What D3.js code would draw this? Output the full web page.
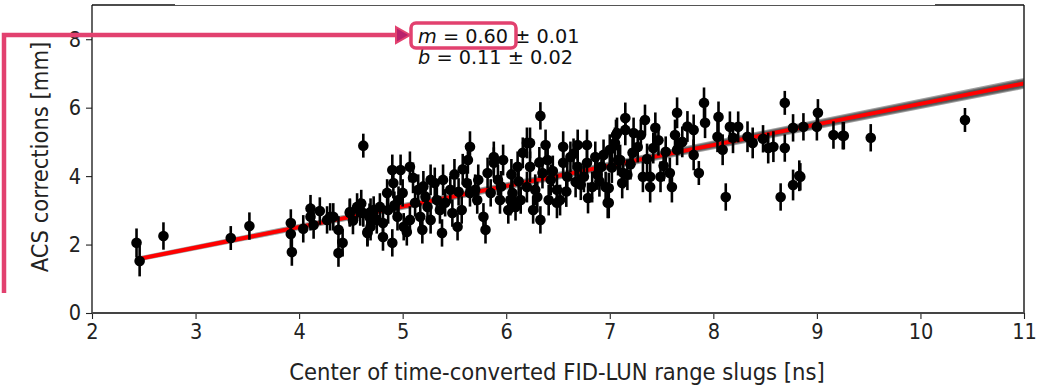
<!DOCTYPE html>
<html>
<head>
<meta charset="utf-8">
<script src="https://cdn.jsdelivr.net/npm/d3@7"></script>
<style>
  body { margin: 0; background: #fff; }
  svg { display: block; font-family: "DejaVu Sans", sans-serif; }
  .cond { font-family: "DejaVu Sans Condensed", "DejaVu Sans", sans-serif; font-stretch: condensed; }
</style>
</head>
<body>
<svg id="chart" width="1051" height="387"></svg>
<script>
// data: [x (ns), y (mm), y error]
const points = [
  [2.43, 2.05, 0.42], [2.46, 1.52, 0.45], [2.69, 2.25, 0.4], [3.34, 2.19, 0.35], [3.52, 2.54, 0.4],
  [3.92, 2.63, 0.4], [3.92, 2.31, 0.4], [3.93, 1.78, 0.4], [4.04, 2.46, 0.4], [4.11, 2.81, 0.4],
  [4.11, 3.05, 0.4], [4.20, 2.98, 0.4], [4.14, 2.57, 0.4], [4.27, 2.72, 0.4], [4.33, 2.81, 0.4],
  [4.38, 2.43, 0.4], [4.42, 2.05, 0.4], [4.38, 1.75, 0.4], [4.49, 2.92, 0.4], [4.59, 2.95, 0.4],
  [4.66, 2.34, 0.4], [4.69, 2.95, 0.4], [4.62, 4.89, 0.35], [4.30, 2.81, 0.4], [4.49, 2.95, 0.4],
  [4.66, 2.37, 0.4], [4.69, 2.52, 0.4], [4.81, 2.22, 0.4], [4.90, 2.05, 0.4], [4.90, 4.18, 0.45],
  [4.98, 4.18, 0.45], [5.07, 4.27, 0.45], [5.04, 2.37, 0.4], [5.19, 2.43, 0.4], [5.38, 2.34, 0.4],
  [5.53, 2.52, 0.4], [5.65, 4.86, 0.45], [5.63, 4.47, 0.4], [5.80, 2.43, 0.4], [5.88, 4.56, 0.45],
  [6.20, 4.97, 0.45], [6.38, 4.91, 0.45], [6.55, 4.86, 0.45], [6.69, 4.91, 0.45], [6.78, 4.91, 0.45],
  [6.33, 2.72, 0.4], [6.04, 3.30, 0.45], [6.67, 3.83, 0.45], [6.79, 3.36, 0.45], [6.99, 3.22, 0.45],
  [6.49, 3.22, 0.45], [7.07, 5.26, 0.45], [6.33, 5.76, 0.4], [7.15, 5.70, 0.45],
  [4.85, 3.51, 0.4], [4.91, 3.80, 0.45], [4.96, 3.30, 0.4], [4.86, 3.01, 0.4], [5.00, 3.51, 0.4],
  [5.07, 2.72, 0.4], [5.12, 3.22, 0.4], [5.15, 3.60, 0.45], [5.24, 3.10, 0.4], [5.27, 3.89, 0.45],
  [5.31, 3.80, 0.45], [5.33, 3.30, 0.4], [5.39, 3.89, 0.45], [5.41, 3.22, 0.4], [5.46, 3.60, 0.4],
  [5.48, 2.92, 0.4], [5.54, 3.54, 0.4], [5.57, 3.01, 0.4], [5.62, 3.80, 0.4], [5.65, 3.51, 0.4],
  [5.72, 3.30, 0.4], [5.73, 3.89, 0.45], [5.78, 2.81, 0.4], [5.82, 4.09, 0.45], [5.85, 3.51, 0.4],
  [5.88, 4.39, 0.45], [5.92, 3.89, 0.45], [5.94, 3.30, 0.4], [5.97, 4.47, 0.45], [6.02, 3.01, 0.4],
  [6.06, 3.51, 0.45], [6.09, 3.10, 0.4], [6.11, 4.27, 0.45], [6.14, 3.30, 0.4], [6.16, 4.68, 0.45],
  [6.20, 3.68, 0.45], [6.23, 4.27, 0.45], [6.23, 4.97, 0.45], [6.26, 3.01, 0.4], [6.30, 3.39, 0.45],
  [6.35, 4.09, 0.45], [6.40, 4.47, 0.45], [6.41, 3.30, 0.45], [6.43, 3.89, 0.45], [6.49, 3.60, 0.45],
  [6.52, 3.30, 0.45], [6.55, 4.39, 0.45], [6.59, 3.98, 0.45], [6.62, 4.56, 0.45], [6.69, 4.27, 0.45],
  [6.75, 3.98, 0.45], [6.78, 4.39, 0.45], [6.83, 3.68, 0.45], [6.86, 4.56, 0.45], [6.92, 4.27, 0.45],
  [6.96, 3.68, 0.45], [7.00, 4.77, 0.45], [7.05, 4.97, 0.45], [7.10, 4.47, 0.45], [7.13, 4.09, 0.45],
  [7.15, 5.35, 0.45], [4.72, 3.01, 0.4], [4.78, 3.10, 0.4], [4.75, 2.72, 0.4], [4.81, 2.63, 0.4],
  [4.95, 2.81, 0.4], [5.01, 2.52, 0.4], [5.17, 2.81, 0.4], [5.27, 2.72, 0.4], [5.36, 3.01, 0.4],
  [4.56, 3.10, 0.4], [4.62, 2.92, 0.4],
  [7.91, 6.14, 0.45], [7.65, 5.85, 0.45], [8.69, 6.14, 0.35], [9.01, 5.85, 0.4], [7.34, 5.64, 0.45],
  [8.05, 5.73, 0.45], [7.92, 5.56, 0.45], [7.81, 5.35, 0.45], [8.16, 5.44, 0.45], [8.24, 5.44, 0.45],
  [8.77, 5.41, 0.4], [8.87, 5.44, 0.4], [9.00, 5.44, 0.4], [9.16, 5.20, 0.4], [9.26, 5.18, 0.4],
  [9.52, 5.12, 0.4], [8.04, 5.15, 0.45], [8.19, 5.12, 0.45], [8.33, 5.15, 0.45], [8.38, 4.97, 0.45],
  [8.48, 5.09, 0.4], [8.53, 4.82, 0.45], [8.58, 4.86, 0.45], [8.69, 4.82, 0.4], [8.09, 4.77, 0.45],
  [7.81, 4.62, 0.45], [7.86, 4.09, 0.35], [8.12, 3.39, 0.4], [8.65, 3.39, 0.4], [8.77, 3.74, 0.45],
  [8.83, 4.01, 0.45], [6.98, 3.22, 0.45], [7.39, 3.68, 0.45], [7.60, 3.68, 0.45], [7.65, 4.77, 0.45],
  [7.63, 5.20, 0.45], [7.44, 5.41, 0.45], [7.42, 4.82, 0.45], [7.54, 4.71, 0.45], [7.30, 5.20, 0.45],
  [7.06, 5.20, 0.45], [7.22, 4.68, 0.45], [7.08, 4.47, 0.45], [6.94, 4.62, 0.45], [6.99, 3.65, 0.45],
  [7.17, 4.04, 0.45], [7.32, 3.98, 0.45], [7.23, 5.26, 0.45], [7.49, 3.98, 0.45], [7.58, 4.09, 0.45],
  [7.39, 3.98, 0.45], [9.25, 5.18, 0.4], [10.43, 5.64, 0.35], [8.84, 3.98, 0.4],
  [5.10, 3.95, 0.45], [5.20, 3.70, 0.45], [5.50, 4.05, 0.45], [5.58, 4.20, 0.45], [5.70, 3.60, 0.45],
  [5.95, 3.70, 0.45], [6.05, 4.05, 0.45], [6.12, 3.85, 0.45], [6.28, 3.60, 0.45], [6.32, 4.40, 0.45],
  [6.45, 4.15, 0.45], [6.58, 3.55, 0.45], [6.65, 4.65, 0.45], [6.72, 3.75, 0.45], [6.88, 4.05, 0.45],
  [6.90, 3.85, 0.45], [7.02, 4.25, 0.45], [7.12, 3.80, 0.45], [7.20, 4.35, 0.45], [7.27, 4.85, 0.45],
  [7.36, 4.50, 0.45], [7.47, 5.05, 0.45], [7.52, 4.30, 0.45], [7.70, 5.00, 0.45], [7.75, 5.45, 0.45],
  [4.52, 2.70, 0.4], [4.60, 3.20, 0.4], [4.68, 2.80, 0.4], [4.92, 3.15, 0.4], [5.22, 3.40, 0.4]
];
const slope = 0.60, slopeErr = 0.01;
const intercept = 0.11, interceptErr = 0.02;
const xTicks = [2, 3, 4, 5, 6, 7, 8, 9, 10, 11];
const yTicks = [0, 2, 4, 6, 8];
const xLabel = 'Center of time-converted FID-LUN range slugs [ns]';
const yLabel = 'ACS corrections [mm]';

const pink = '#e2416f';
const svg = d3.select('#chart');
const margin = { top: 5, right: 27, bottom: 74, left: 92 };
const width = 1051 - margin.left - margin.right;
const height = 387 - margin.top - margin.bottom;

const x = d3.scaleLinear().domain([2, 11]).range([0, width]);
const y = d3.scaleLinear().domain([0, 9]).range([height, 0]);

const g = svg.append('g').attr('transform', `translate(${margin.left},${margin.top})`);

g.append('defs').append('clipPath').attr('id', 'clip')
  .append('rect').attr('width', width).attr('height', height);
const plot = g.append('g').attr('clip-path', 'url(#clip)');

// fit band and line
const xMin = d3.min(points, d => d[0]);
const fitXs = [xMin, 11];
const band = fitXs.map(v => {
  const c = [[1, 1], [1, -1], [-1, 1], [-1, -1]].map(([a, b]) => (slope + a * slopeErr) * v + intercept + b * interceptErr);
  return { x: v, lo: d3.min(c), hi: d3.max(c) };
});
plot.append('path')
  .datum(band)
  .attr('fill', '#555')
  .attr('stroke', '#777')
  .attr('stroke-width', 2)
  .attr('stroke-opacity', 0.7)
  .attr('d', d3.area().x(d => x(d.x)).y0(d => y(d.lo)).y1(d => y(d.hi)));
plot.append('path')
  .datum(fitXs)
  .attr('fill', 'none')
  .attr('stroke', '#ff0000')
  .attr('stroke-width', 4)
  .attr('d', d3.line().x(d => x(d)).y(d => y(slope * d + intercept)));

// error bars
plot.selectAll('line.err')
  .data(points)
  .join('line')
  .attr('class', 'err')
  .attr('x1', d => x(d[0])).attr('x2', d => x(d[0]))
  .attr('y1', d => y(d[1] - d[2])).attr('y2', d => y(d[1] + d[2]))
  .attr('stroke', '#000')
  .attr('stroke-width', 2.6);

plot.selectAll('circle.pt')
  .data(points)
  .join('circle')
  .attr('class', 'pt')
  .attr('cx', d => x(d[0]))
  .attr('cy', d => y(d[1]))
  .attr('r', 5.3)
  .attr('fill', '#000');

// axes
const xAxis = g.append('g')
  .attr('transform', `translate(0,${height})`)
  .call(d3.axisBottom(x).tickValues(xTicks).tickSize(6).tickPadding(5).tickFormat(d3.format('d')));
const yAxis = g.append('g')
  .call(d3.axisLeft(y).tickValues(yTicks).tickSize(6).tickPadding(5).tickFormat(d3.format('d')));
[xAxis, yAxis].forEach(a => {
  a.select('.domain').remove();
  a.selectAll('text').attr('class', 'cond').attr('font-size', 21.5).attr('fill', '#222');
  a.selectAll('line').attr('stroke', '#222').attr('stroke-width', 1.1);
});

// frame
g.append('line').attr('x1', 0).attr('x2', 0).attr('y1', 0).attr('y2', height).attr('stroke', '#111').attr('stroke-width', 1.3);
g.append('line').attr('x1', width).attr('x2', width).attr('y1', 0).attr('y2', height).attr('stroke', '#222').attr('stroke-width', 1.5);
g.append('line').attr('x1', 0).attr('x2', 83).attr('y1', 0).attr('y2', 0).attr('stroke', '#111').attr('stroke-width', 1.3);
g.append('line').attr('x1', 83).attr('x2', 843).attr('y1', 0.5).attr('y2', 0.5).attr('stroke', '#555').attr('stroke-width', 1.2);
g.append('line').attr('x1', 843).attr('x2', width).attr('y1', 0).attr('y2', 0).attr('stroke', '#111').attr('stroke-width', 1.5);
// zero line along the bottom
g.append('line').attr('x1', 0).attr('x2', width).attr('y1', y(0)).attr('y2', y(0))
  .attr('stroke', '#444').attr('stroke-width', 2.2);

// axis labels
svg.append('text')
  .attr('class', 'cond')
  .attr('x', margin.left + width / 2 - 1).attr('y', 380)
  .attr('text-anchor', 'middle').attr('font-size', 23.5).attr('fill', '#222')
  .text(xLabel);
svg.append('text')
  .attr('class', 'cond')
  .attr('transform', `translate(48,${margin.top + height / 2 - 2}) rotate(-90)`)
  .attr('text-anchor', 'middle').attr('font-size', 23.5).attr('fill', '#222')
  .text(yLabel);

// fit parameters
const ann = svg.append('g').attr('font-size', 19.3).attr('fill', '#111');
const l1 = ann.append('text').attr('x', 418).attr('y', 43);
l1.append('tspan').attr('font-style', 'italic').text('m');
l1.append('tspan').text(` = ${slope.toFixed(2)} ± ${slopeErr.toFixed(2)}`);
const l2 = ann.append('text').attr('x', 418).attr('y', 64);
l2.append('tspan').attr('font-style', 'italic').text('b');
l2.append('tspan').text(` = ${intercept.toFixed(2)} ± ${interceptErr.toFixed(2)}`);

// pink callout
svg.append('path')
  .attr('d', 'M4,293 L4,35 L398,35')
  .attr('fill', 'none').attr('stroke', pink).attr('stroke-width', 4.5);
svg.append('path')
  .attr('d', 'M396,27 L410,35 L396,43 Z')
  .attr('fill', '#b8216c').attr('stroke', pink).attr('stroke-width', 2);
svg.append('rect')
  .attr('x', 411).attr('y', 23).attr('width', 105).attr('height', 25).attr('rx', 5)
  .attr('fill', 'none').attr('stroke', pink).attr('stroke-width', 3.5);
</script>
</body>
</html>
